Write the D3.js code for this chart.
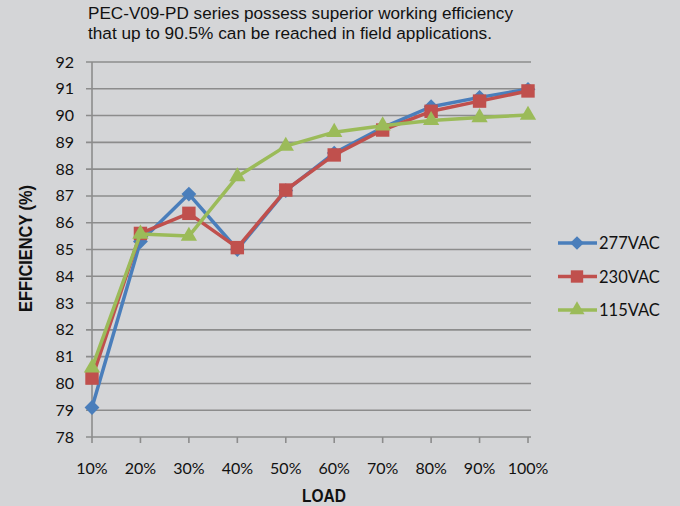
<!DOCTYPE html>
<html>
<head>
<meta charset="utf-8">
<script src="https://cdn.jsdelivr.net/npm/d3@7"></script>
<style>
  body { margin: 0; background: #d4d5d7; }
  svg { display: block; }
</style>
</head>
<body>
<svg id="chart"></svg>
<script>
const loads = ["10%", "20%", "30%", "40%", "50%", "60%", "70%", "80%", "90%", "100%"]
const vac277 = [79.1, 85.3, 87.07, 85.0, 87.2, 88.6, 89.55, 90.33, 90.68, 90.98]
const vac230 = [80.2, 85.6, 86.35, 85.07, 87.22, 88.53, 89.46, 90.16, 90.54, 90.92]
const vac115 = [80.58, 85.58, 85.5, 87.72, 88.86, 89.38, 89.62, 89.82, 89.93, 90.02]
const yTicks = [78, 79, 80, 81, 82, 83, 84, 85, 86, 87, 88, 89, 90, 91, 92]
const seriesNames = ["277VAC", "230VAC", "115VAC"]

const W = 680, H = 506
const svg = d3.select("#chart").attr("width", W).attr("height", H)

const x = d3.scalePoint().domain(loads).range([92, 528])
const y = d3.scaleLinear().domain([78, 92]).range([437, 62])

// title
const title = svg.append("text")
  .attr("font-family", "'Liberation Sans', Arial, sans-serif")
  .attr("font-size", 17.2)
  .attr("fill", "#111")
title.append("tspan").attr("x", 88).attr("y", 19)
  .attr("textLength", 425).attr("lengthAdjust", "spacingAndGlyphs")
  .text("PEC-V09-PD  series possess superior working efficiency")
title.append("tspan").attr("x", 88).attr("y", 39)
  .attr("textLength", 404).attr("lengthAdjust", "spacingAndGlyphs")
  .text("that up to 90.5% can be reached in field applications.")

// grid lines
svg.append("g")
  .selectAll("line")
  .data(yTicks)
  .enter()
  .append("line")
  .attr("x1", 86).attr("x2", 531)
  .attr("y1", d => y(d)).attr("y2", d => y(d))
  .attr("stroke", "#8c8c8c")
  .attr("stroke-width", 1.6)

// y axis line
svg.append("line")
  .attr("x1", 92).attr("x2", 92)
  .attr("y1", y(92)).attr("y2", y(78))
  .attr("stroke", "#8c8c8c").attr("stroke-width", 1.6)

// x ticks
svg.append("g")
  .selectAll("line")
  .data(loads)
  .enter()
  .append("line")
  .attr("x1", d => x(d)).attr("x2", d => x(d))
  .attr("y1", y(78)).attr("y2", y(78) + 6)
  .attr("stroke", "#8c8c8c").attr("stroke-width", 1.6)

const labelFont = "Lato, 'Open Sans', sans-serif"
const boldFont = "'Liberation Sans', Arial, sans-serif"

// y tick labels
svg.append("g")
  .selectAll("text")
  .data(yTicks)
  .enter()
  .append("text")
  .attr("x", 74)
  .attr("y", d => y(d) + 5.5)
  .attr("text-anchor", "end")
  .attr("font-family", labelFont)
  .attr("font-size", 16)
  .attr("fill", "#111")
  .text(d => d)

// x tick labels
svg.append("g")
  .selectAll("text")
  .data(loads)
  .enter()
  .append("text")
  .attr("x", d => x(d))
  .attr("y", 474)
  .attr("text-anchor", "middle")
  .attr("font-family", labelFont)
  .attr("font-size", 16)
  .attr("fill", "#111")
  .text(d => d)

// axis titles
svg.append("text")
  .attr("x", 302).attr("y", 502)
  .attr("font-family", boldFont)
  .attr("font-weight", "bold")
  .attr("font-size", 19)
  .attr("textLength", 44).attr("lengthAdjust", "spacingAndGlyphs")
  .attr("fill", "#111")
  .text("LOAD")

svg.append("text")
  .attr("transform", "translate(32,312) rotate(-90)")
  .attr("font-family", boldFont)
  .attr("font-weight", "bold")
  .attr("font-size", 19)
  .attr("textLength", 127).attr("lengthAdjust", "spacingAndGlyphs")
  .attr("fill", "#111")
  .text("EFFICIENCY (%)")

// series
const series = [
  { name: seriesNames[0], values: vac277, color: "#4a7ebb", symbol: d3.symbolSquare, size: 110, rot: 45 },
  { name: seriesNames[1], values: vac230, color: "#c0504d", symbol: d3.symbolSquare, size: 180, rot: 0 },
  { name: seriesNames[2], values: vac115, color: "#9bbb59", symbol: d3.symbolTriangle, size: 115, rot: 0 }
]

const line = d3.line()
  .x((d, i) => x(loads[i]))
  .y(d => y(d))

series.forEach(s => {
  svg.append("path")
    .datum(s.values)
    .attr("d", line)
    .attr("fill", "none")
    .attr("stroke", s.color)
    .attr("stroke-width", 3.5)
    .attr("stroke-linejoin", "round")

  svg.append("g")
    .selectAll("path")
    .data(s.values)
    .enter()
    .append("path")
    .attr("transform", (d, i) => "translate(" + x(loads[i]) + "," + y(d) + ") rotate(" + s.rot + ")")
    .attr("d", d3.symbol().type(s.symbol).size(s.size))
    .attr("fill", s.color)
})

// legend
const legend = svg.append("g").attr("class", "legend")
series.forEach((s, i) => {
  const ly = 243 + i * 33.5
  legend.append("line")
    .attr("x1", 558).attr("x2", 597)
    .attr("y1", ly).attr("y2", ly)
    .attr("stroke", s.color).attr("stroke-width", 3.5)
  legend.append("path")
    .attr("transform", "translate(577," + ly + ") rotate(" + s.rot + ")")
    .attr("d", d3.symbol().type(s.symbol).size(s.size * 0.85))
    .attr("fill", s.color)
  legend.append("text")
    .attr("x", 599).attr("y", ly + 6)
    .attr("font-family", labelFont)
    .attr("font-size", 16.5)
    .attr("fill", "#111")
    .text(s.name)
})
</script>
</body>
</html>
